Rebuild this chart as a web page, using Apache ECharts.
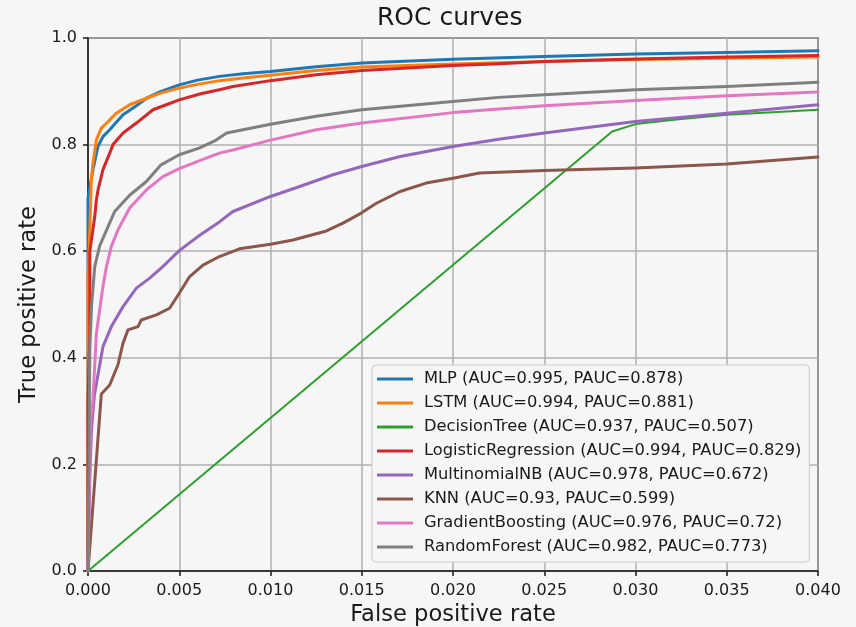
<!DOCTYPE html>
<html>
<head>
<meta charset="utf-8">
<title>ROC curves</title>
<script src="https://cdn.jsdelivr.net/npm/echarts@6/dist/echarts.min.js"></script>
<style>
  html, body { margin: 0; padding: 0; background: #f6f6f6; }
  #chart { width: 856px; height: 627px; }
</style>
</head>
<body>
<div id="chart"></div>
<script>
// ROC curves, points are [false positive rate, true positive rate]
const modelNames = [
  'MLP (AUC=0.995, PAUC=0.878)',
  'LSTM (AUC=0.994, PAUC=0.881)',
  'DecisionTree (AUC=0.937, PAUC=0.507)',
  'LogisticRegression (AUC=0.994, PAUC=0.829)',
  'MultinomialNB (AUC=0.978, PAUC=0.672)',
  'KNN (AUC=0.93, PAUC=0.599)',
  'GradientBoosting (AUC=0.976, PAUC=0.72)',
  'RandomForest (AUC=0.982, PAUC=0.773)'
];

const modelColors = ['#1f77b4', '#ff7f0e', '#2ca02c', '#d62728', '#9467bd', '#8c564b', '#e377c2', '#7f7f7f'];

const mlpRoc = [
  [0, 0], [0, 0.70], [0.00027, 0.753], [0.00055, 0.797], [0.00082, 0.815], [0.00119, 0.828],
  [0.00150, 0.840], [0.00192, 0.856], [0.00265, 0.873], [0.0032, 0.887], [0.0040, 0.900],
  [0.0050, 0.912], [0.0060, 0.921], [0.0072, 0.928], [0.0085, 0.933], [0.0100, 0.937],
  [0.0125, 0.946], [0.0150, 0.953], [0.0200, 0.960], [0.0250, 0.9655], [0.0300, 0.970],
  [0.0350, 0.973], [0.0400, 0.976]
];

const lstmRoc = [
  [0, 0], [0, 0.55], [0.0001, 0.64], [0.00018, 0.734], [0.00027, 0.765], [0.00046, 0.809],
  [0.00073, 0.831], [0.00101, 0.840], [0.00155, 0.859], [0.00228, 0.8748], [0.0032, 0.887],
  [0.0040, 0.897], [0.0050, 0.906], [0.0060, 0.913], [0.0072, 0.920], [0.0085, 0.925],
  [0.0100, 0.930], [0.0125, 0.939], [0.0150, 0.9455], [0.0200, 0.951], [0.0250, 0.956],
  [0.0300, 0.9595], [0.0350, 0.962], [0.0400, 0.9645]
];

const decisionTreeRoc = [
  [0, 0], [0.02872, 0.8247], [0.0300, 0.8385], [0.0325, 0.848], [0.0350, 0.856], [0.0400, 0.8654]
];

const logisticRoc = [
  [0, 0], [0, 0.32], [0.0001, 0.45], [0.0001, 0.60], [0.00037, 0.665], [0.00046, 0.6965],
  [0.00055, 0.715], [0.00082, 0.753], [0.00119, 0.784], [0.00137, 0.800], [0.00192, 0.8217],
  [0.00265, 0.8404], [0.00356, 0.8654], [0.00429, 0.8748], [0.0050, 0.884], [0.00612, 0.895],
  [0.0072, 0.903], [0.00794, 0.909], [0.0100, 0.920], [0.0125, 0.931], [0.0150, 0.939],
  [0.0200, 0.9486], [0.02255, 0.9517], [0.0250, 0.956], [0.0300, 0.9605], [0.0350, 0.9643],
  [0.0400, 0.9673]
];

const naiveBayesRoc = [
  [0, 0], [0.0001, 0.18], [0.0002, 0.27], [0.00035, 0.33], [0.00082, 0.421], [0.00128, 0.4586],
  [0.00192, 0.496], [0.00265, 0.5307], [0.00338, 0.5495], [0.0041, 0.571], [0.0050, 0.601],
  [0.00612, 0.630], [0.0072, 0.655], [0.00794, 0.6745], [0.0100, 0.7027], [0.0116, 0.7214],
  [0.01342, 0.7434], [0.0150, 0.759], [0.0171, 0.7778], [0.0200, 0.7965], [0.0225, 0.810],
  [0.0250, 0.8217], [0.0300, 0.8435], [0.0350, 0.859], [0.0400, 0.8748]
];

const knnRoc = [
  [0, 0], [0.00073, 0.332], [0.00119, 0.349], [0.00164, 0.387], [0.00192, 0.4275],
  [0.00219, 0.4524], [0.00274, 0.4586], [0.00292, 0.471], [0.00375, 0.4806], [0.00447, 0.493],
  [0.0050, 0.521], [0.00557, 0.5525], [0.0063, 0.574], [0.0072, 0.590], [0.0083, 0.6045],
  [0.0100, 0.613], [0.01123, 0.621], [0.01306, 0.638], [0.01397, 0.6527], [0.01497, 0.6715],
  [0.0158, 0.690], [0.0171, 0.712], [0.01853, 0.7278], [0.0200, 0.737], [0.02145, 0.7466],
  [0.0250, 0.7515], [0.0300, 0.756], [0.0350, 0.7635], [0.0400, 0.7766]
];

const boostingRoc = [
  [0, 0], [0.0001, 0.20], [0.00015, 0.28], [0.00027, 0.321], [0.00046, 0.446], [0.00082, 0.534],
  [0.00101, 0.571], [0.00128, 0.609], [0.00164, 0.640], [0.00228, 0.681], [0.0032, 0.715],
  [0.0041, 0.740], [0.0050, 0.755], [0.00612, 0.770], [0.0072, 0.784], [0.00794, 0.790],
  [0.0100, 0.8084], [0.0125, 0.828], [0.0150, 0.8404], [0.0200, 0.860], [0.0225, 0.8667],
  [0.0250, 0.8729], [0.0300, 0.8829], [0.0350, 0.8917], [0.0400, 0.8986]
];

const forestRoc = [
  [0, 0], [0.0001, 0.42], [0.0002, 0.50], [0.00037, 0.571], [0.00064, 0.610], [0.0011, 0.646],
  [0.00146, 0.6745], [0.00228, 0.705], [0.0032, 0.7308], [0.0040, 0.762], [0.0050, 0.781],
  [0.00612, 0.794], [0.0070, 0.808], [0.0076, 0.8217], [0.0100, 0.838], [0.0125, 0.853],
  [0.0150, 0.8654], [0.0200, 0.881], [0.0225, 0.8886], [0.0250, 0.8936], [0.0300, 0.903],
  [0.0350, 0.909], [0.0400, 0.917]
];

const rocCurves = [mlpRoc, lstmRoc, decisionTreeRoc, logisticRoc, naiveBayesRoc, knnRoc, boostingRoc, forestRoc];

const xTicks = { min: 0, max: 0.04, step: 0.005 };
const yTicks = { min: 0, max: 1, step: 0.2 };

const FONT = 'DejaVu Sans';
const INK = '#1a1a1a';

const chart = echarts.init(document.getElementById('chart'), null, { renderer: 'canvas' });

const series = rocCurves.map((points, i) => ({
  name: modelNames[i],
  type: 'line',
  data: points,
  symbol: 'none',
  smooth: false,
  lineStyle: { color: modelColors[i], width: i === 2 ? 2 : 3, cap: 'round', join: 'round' },
  itemStyle: { color: modelColors[i] },
  emphasis: { disabled: true },
  z: 3 + i
}));

chart.setOption({
  animation: false,
  backgroundColor: '#f6f6f6',
  title: {
    text: 'ROC curves',
    left: 377,
    top: 6,
    padding: 0,
    textStyle: { fontFamily: FONT, fontSize: 25, fontWeight: 'normal', color: INK }
  },
  grid: {
    left: 88,
    right: 38,
    top: 38,
    bottom: 56,
    outerBoundsMode: 'none',
    containLabel: false,
    show: true,
    borderColor: INK,
    borderWidth: 1.5,
    backgroundColor: 'transparent'
  },
  legend: {
    orient: 'vertical',
    left: 372,
    top: 365,
    padding: [4, 8, 5, 5],
    icon: 'rect',
    itemWidth: 36,
    itemHeight: 3,
    itemGap: 4,
    backgroundColor: '#f6f6f6',
    borderColor: '#cccccc',
    borderWidth: 1,
    borderRadius: 4,
    selectedMode: false,
    textStyle: {
      fontFamily: FONT,
      fontSize: 16.3,
      lineHeight: 20,
      color: INK,
      padding: [0, 0, 0, 6]
    },
    data: modelNames
  },
  xAxis: {
    type: 'value',
    min: xTicks.min,
    max: xTicks.max,
    interval: xTicks.step,
    name: 'False positive rate',
    nameLocation: 'middle',
    nameGap: 33,
    nameTextStyle: { fontFamily: FONT, fontSize: 22.6, color: INK },
    axisLine: { show: true, onZero: false, lineStyle: { color: INK, width: 1.5 } },
    axisTick: { show: true, length: 5, lineStyle: { color: INK, width: 1.5 } },
    axisLabel: {
      fontFamily: FONT, fontSize: 16, color: INK, margin: 12,
      showMinLabel: true, showMaxLabel: true,
      formatter: v => v.toFixed(3)
    },
    splitLine: { show: true, lineStyle: { color: '#b0b0b0', width: 1.5 } }
  },
  yAxis: {
    type: 'value',
    min: yTicks.min,
    max: yTicks.max,
    interval: yTicks.step,
    name: 'True positive rate',
    nameLocation: 'middle',
    nameGap: 37,
    nameTextStyle: { fontFamily: FONT, fontSize: 22.6, color: INK },
    axisLine: { show: true, onZero: false, lineStyle: { color: INK, width: 1.5 } },
    axisTick: { show: true, length: 5, lineStyle: { color: INK, width: 1.5 } },
    axisLabel: {
      fontFamily: FONT, fontSize: 16, color: INK, margin: 11,
      showMinLabel: true, showMaxLabel: true,
      formatter: v => v.toFixed(1)
    },
    splitLine: { show: true, lineStyle: { color: '#b0b0b0', width: 1.5 } }
  },
  series: series
});
</script>
</body>
</html>
